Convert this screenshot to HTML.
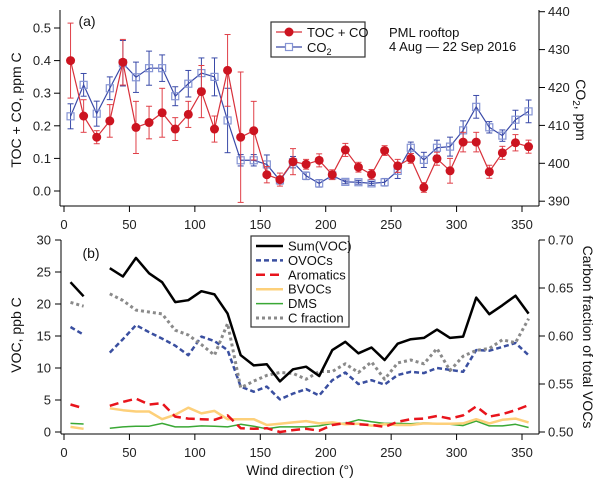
<!DOCTYPE html>
<html><head><meta charset="utf-8"><style>
html,body{margin:0;padding:0;background:#fff;}
svg{display:block;font-family:"Liberation Sans",Arial,sans-serif;}
</style></head><body>
<svg id="chart" width="600" height="483" viewBox="0 0 600 483" xmlns="http://www.w3.org/2000/svg"></svg>
<script>
const dirs=[5,15,25,35,45,55,65,75,85,95,105,115,125,135,145,155,165,175,185,195,205,215,225,235,245,255,265,275,285,295,305,315,325,335,345,355];
const tocVals=[0.40,0.23,0.165,0.215,0.395,0.195,0.21,0.24,0.19,0.235,0.305,0.19,0.37,0.165,0.185,0.05,0.035,0.09,0.082,0.094,0.05,0.126,0.073,0.051,0.124,0.077,0.10,0.011,0.099,0.062,0.15,0.15,0.059,0.117,0.148,0.136];
const tocErr=[0.115,0.05,0.02,0.05,0.07,0.08,0.05,0.075,0.035,0.04,0.08,0.04,0.11,0.2,0.09,0.025,0.02,0.04,0.015,0.02,0.015,0.02,0.015,0.015,0.015,0.02,0.015,0.015,0.02,0.038,0.03,0.03,0.02,0.02,0.025,0.02];
const co2Vals=[412.4,420.7,413.1,419.8,426.4,422.7,425.1,425.1,417.7,421,423.8,422.8,411.3,400.8,400.8,399.7,395.5,400.3,396.7,394.7,396.8,395.1,395,394.7,395,398,404.1,400.9,404.1,404.4,408.7,414.9,409.5,407.3,411.5,413.7];
const co2Err=[3.3,3,3.3,3,6,4,4.5,3.5,2.5,3.5,4,5,8.5,1.5,1.5,2.5,1,1.5,1,1,1,0.5,0.5,0.5,1,2,1.5,2,2,2.5,2.5,3,1.5,1.5,2.5,3];
const sumVoc=[23.4,21.2,null,25.6,24.3,27.2,24.8,23.4,20.3,20.6,22,21.5,18.5,12,10.4,10.6,7.9,9.8,10.2,8.75,12.8,14.1,12.3,13.2,11.25,13.8,14.5,14.7,16,14.7,14.9,21,18.4,19.8,21.3,18.5];
const ovoc=[16.4,15.2,null,12.4,14.5,16.7,15.6,14.6,13.5,12,14.9,14.2,12.8,7.1,6.3,7.1,5.1,6,6.7,5.7,8.1,9.3,7.5,8.1,7.4,8.9,9.4,9.2,10,9.7,9.4,12.8,12.7,13.3,13.9,12];
const arom=[4.3,3.7,null,4.1,4.7,5.2,4.3,4.5,2.4,2.1,2,1.9,2.6,0.6,0.5,0.6,0,0.3,0.5,0.2,1.1,1.4,1.2,1.1,0.8,1.6,2,2.1,2.5,2.1,2.6,4,2.4,2.8,3.4,4.2];
const bvoc=[0.8,0.5,null,3.7,3.4,3.2,3.2,2,2.7,3.8,2.9,3.3,2,2,2,1.1,1.3,1.5,1.7,1.35,1.5,1.2,1.3,1,1.2,1.1,1.1,1.35,1.3,1.3,1.35,2,1.35,1.9,2.1,1.5];
const dms=[1.35,1.25,null,0.6,0.8,0.9,0.9,1.35,0.8,0.8,0.95,0.9,0.8,1.2,0.9,0.5,0.8,0.8,0.8,0.95,1.35,1.35,1.9,1.6,1.35,1.35,1.3,1.4,1.35,1.2,1.0,1.7,0.95,0.95,1.2,0.7];
const cfrac=[0.635,0.631,null,0.644,0.637,0.627,0.625,0.623,0.606,0.601,0.591,0.58,0.613,0.546,0.553,0.559,0.562,0.561,0.555,0.563,0.563,0.571,0.562,0.573,0.555,0.572,0.575,0.571,0.587,0.564,0.579,0.585,0.587,0.596,0.593,0.618];
const xTicks=[0,50,100,150,200,250,300,350];
const tocTicks=[0.0,0.1,0.2,0.3,0.4,0.5];
const co2Ticks=[390,400,410,420,430,440];
const vocTicks=[0,5,10,15,20,25,30];
const fracTicks=[0.50,0.55,0.60,0.65,0.70];

const svg=document.getElementById('chart');
const NS='http://www.w3.org/2000/svg';
function mk(tag,attrs,parent){const e=document.createElementNS(NS,tag);for(const k in attrs)e.setAttribute(k,attrs[k]);(parent||svg).appendChild(e);return e;}
function txt(s,attrs,parent){const e=mk('text',attrs,parent);e.textContent=s;return e;}
const X=v=>64+v*1.3086;
const Ya=v=>191-v*326;
const Yc=v=>163.3-(v-400)*3.79;
const Yb=v=>432-v*6.4;
const Yf=v=>432-(v-0.5)*960;

// ---- Panel a axes
const ga=mk('g',{});


mk('line',{x1:60,y1:10,x2:60,y2:206,stroke:'#000','stroke-width':1},ga);
mk('line',{x1:539,y1:10,x2:539,y2:206,stroke:'#000','stroke-width':1},ga);
mk('line',{x1:60,y1:206,x2:539,y2:206,stroke:'#000','stroke-width':1},ga);
xTicks.forEach(t=>{mk('line',{x1:X(t),y1:206,x2:X(t),y2:212,stroke:'#000'},ga);
 const l=txt(String(t),{x:X(t),y:229,'font-size':13,'text-anchor':'middle',fill:'#222'},ga);
 
 });
tocTicks.forEach(t=>{mk('line',{x1:54,y1:Ya(t),x2:60,y2:Ya(t),stroke:'#000'},ga);
 txt(t.toFixed(1),{x:51,y:Ya(t)+4.5,'font-size':13,'text-anchor':'end',fill:'#222'},ga);});
co2Ticks.forEach(t=>{mk('line',{x1:539,y1:Yc(t),x2:545,y2:Yc(t),stroke:'#000'},ga);
 txt(String(t),{x:548,y:Yc(t)+4.5,'font-size':13,fill:'#222'},ga);});
const yla=txt('TOC + CO, ppm C',{transform:'translate(21,110) rotate(-90)','font-size':14,'text-anchor':'middle',fill:'#111'},ga);


const yra=mk('text',{transform:'translate(576,110) rotate(90)','font-size':14,'text-anchor':'middle',fill:'#111'},ga);
yra.innerHTML='CO<tspan font-size="10" dy="3">2</tspan><tspan dy="-3">, ppm</tspan>';


txt('(a)',{x:87,y:26,'font-size':14,'text-anchor':'middle',fill:'#111'},ga);

// CO2 series
const co2g=mk('g',{},ga);


mk('polyline',{points:dirs.map((d,i)=>X(d)+','+Yc(co2Vals[i])).join(' '),fill:'none',stroke:'#3a4aa8','stroke-width':1.2},co2g);
dirs.forEach((d,i)=>{const x=X(d),y1=Yc(co2Vals[i]+co2Err[i]),y2=Yc(co2Vals[i]-co2Err[i]);
 mk('line',{x1:x,y1:y1,x2:x,y2:y2,stroke:'#3a4aa8','stroke-width':1},co2g);
 mk('line',{x1:x-3,y1:y1,x2:x+3,y2:y1,stroke:'#3a4aa8'},co2g);
 mk('line',{x1:x-3,y1:y2,x2:x+3,y2:y2,stroke:'#3a4aa8'},co2g);
 const m=mk('rect',{x:x-3.5,y:Yc(co2Vals[i])-3.5,width:7,height:7,fill:'none',stroke:'#8594d4','stroke-width':1.2},co2g);
 
 });
// TOC series
const tocg=mk('g',{},ga);


mk('polyline',{points:dirs.map((d,i)=>X(d)+','+Ya(tocVals[i])).join(' '),fill:'none',stroke:'#d8303a','stroke-width':1.2},tocg);
dirs.forEach((d,i)=>{const x=X(d),y1=Ya(tocVals[i]+tocErr[i]),y2=Ya(tocVals[i]-tocErr[i]);
 mk('line',{x1:x,y1:y1,x2:x,y2:y2,stroke:'#e04048','stroke-width':1},tocg);
 mk('line',{x1:x-3,y1:y1,x2:x+3,y2:y1,stroke:'#e04048'},tocg);
 mk('line',{x1:x-3,y1:y2,x2:x+3,y2:y2,stroke:'#e04048'},tocg);
 const m=mk('circle',{cx:x,cy:Ya(tocVals[i]),r:4.5,fill:'#cc1420'},tocg);
 
 });
// legend a
const la=mk('g',{},ga);


mk('rect',{x:271,y:22,width:94,height:35,fill:'#fff',stroke:'#333','stroke-width':1.2},la);
mk('line',{x1:276,y1:32,x2:302,y2:32,stroke:'#d8303a','stroke-width':1.2},la);
mk('circle',{cx:289,cy:32,r:4.5,fill:'#cc1420'},la);
txt('TOC + CO',{x:307,y:37,'font-size':13,fill:'#111'},la);
mk('line',{x1:276,y1:47,x2:302,y2:47,stroke:'#3a4aa8','stroke-width':1.2},la);
mk('rect',{x:285.5,y:43.5,width:7,height:7,fill:'#fff',stroke:'#8594d4','stroke-width':1.2},la);
const lc=mk('text',{x:307,y:52,'font-size':13,fill:'#111'},la);
lc.innerHTML='CO<tspan font-size="9" dy="3">2</tspan>';
txt('PML  rooftop',{x:389,y:37,'font-size':13,fill:'#111'},ga);
txt('4 Aug \u2014 22 Sep  2016',{x:389,y:51,'font-size':13,fill:'#111'},ga);

// ---- Panel b
const gb=mk('g',{});


mk('line',{x1:61,y1:240,x2:61,y2:434,stroke:'#000'},gb);
mk('line',{x1:539,y1:240,x2:539,y2:434,stroke:'#000'},gb);
mk('line',{x1:61,y1:434,x2:539,y2:434,stroke:'#000'},gb);
xTicks.forEach(t=>{mk('line',{x1:X(t),y1:434,x2:X(t),y2:440,stroke:'#000'},gb);
 const l=txt(String(t),{x:X(t),y:457,'font-size':13,'text-anchor':'middle',fill:'#222'},gb);
 
 });
vocTicks.forEach(t=>{mk('line',{x1:55,y1:Yb(t),x2:61,y2:Yb(t),stroke:'#000'},gb);
 txt(String(t),{x:51,y:Yb(t)+4.5,'font-size':13,'text-anchor':'end',fill:'#222'},gb);});
fracTicks.forEach(t=>{mk('line',{x1:539,y1:Yf(t),x2:545,y2:Yf(t),stroke:'#000'},gb);
 txt(t.toFixed(2),{x:548,y:Yf(t)+4.5,'font-size':13,fill:'#222'},gb);});
const xl=txt('Wind direction (\u00b0)',{x:300,y:475,'font-size':14,'text-anchor':'middle',fill:'#111'},gb);


const ylb=txt('VOC, ppb C',{transform:'translate(21,335) rotate(-90)','font-size':14,'text-anchor':'middle',fill:'#111'},gb);


const yrb=txt('Carbon fraction of total VOCs',{transform:'translate(583,337) rotate(90)','font-size':14,'text-anchor':'middle',fill:'#111'},gb);


txt('(b)',{x:91,y:258,'font-size':14,'text-anchor':'middle',fill:'#111'},gb);

function pathFor(vals,Y){let d='',pen=false;vals.forEach((v,i)=>{if(v===null){pen=false;return;}d+=(pen?'L':'M')+X(dirs[i]).toFixed(1)+','+Y(v).toFixed(1);pen=true;});return d;}
const seriesB=[
 {name:'DMS',vals:dms,Y:Yb,stroke:'#3aa835',w:1.5,dash:''},
 {name:'BVOCs',vals:bvoc,Y:Yb,stroke:'#fdd07a',w:2.5,dash:''},
 {name:'Aromatics',vals:arom,Y:Yb,stroke:'#e8141c',w:2.5,dash:'9,5'},
 {name:'OVOCs',vals:ovoc,Y:Yb,stroke:'#3a4fa0',w:2.5,dash:'5,3'},
 {name:'C fraction',vals:cfrac,Y:Yf,stroke:'#8a8a8a',w:3,dash:'3,3'},
 {name:'Sum(VOC)',vals:sumVoc,Y:Yb,stroke:'#000',w:2.5,dash:''}];
seriesB.forEach(s=>{const p=mk('path',{d:pathFor(s.vals,s.Y),fill:'none',stroke:s.stroke,'stroke-width':s.w,'stroke-dasharray':s.dash,'stroke-linejoin':'round'},gb);
 
 });
// legend b
const lb=mk('g',{},gb);


mk('rect',{x:251,y:236,width:98,height:91,fill:'#fff',stroke:'#333','stroke-width':1.2},lb);
const order=['Sum(VOC)','OVOCs','Aromatics','BVOCs','DMS','C fraction'];
order.forEach((n,i)=>{const s=seriesB.find(q=>q.name===n);const y=246+i*14.4;
 mk('line',{x1:256,y1:y,x2:283,y2:y,stroke:s.stroke,'stroke-width':s.w,'stroke-dasharray':s.dash},lb);
 const t=txt(n,{x:288,y:y+4.5,'font-size':13,fill:'#111'},lb);
 
 });
</script>
</body></html>
